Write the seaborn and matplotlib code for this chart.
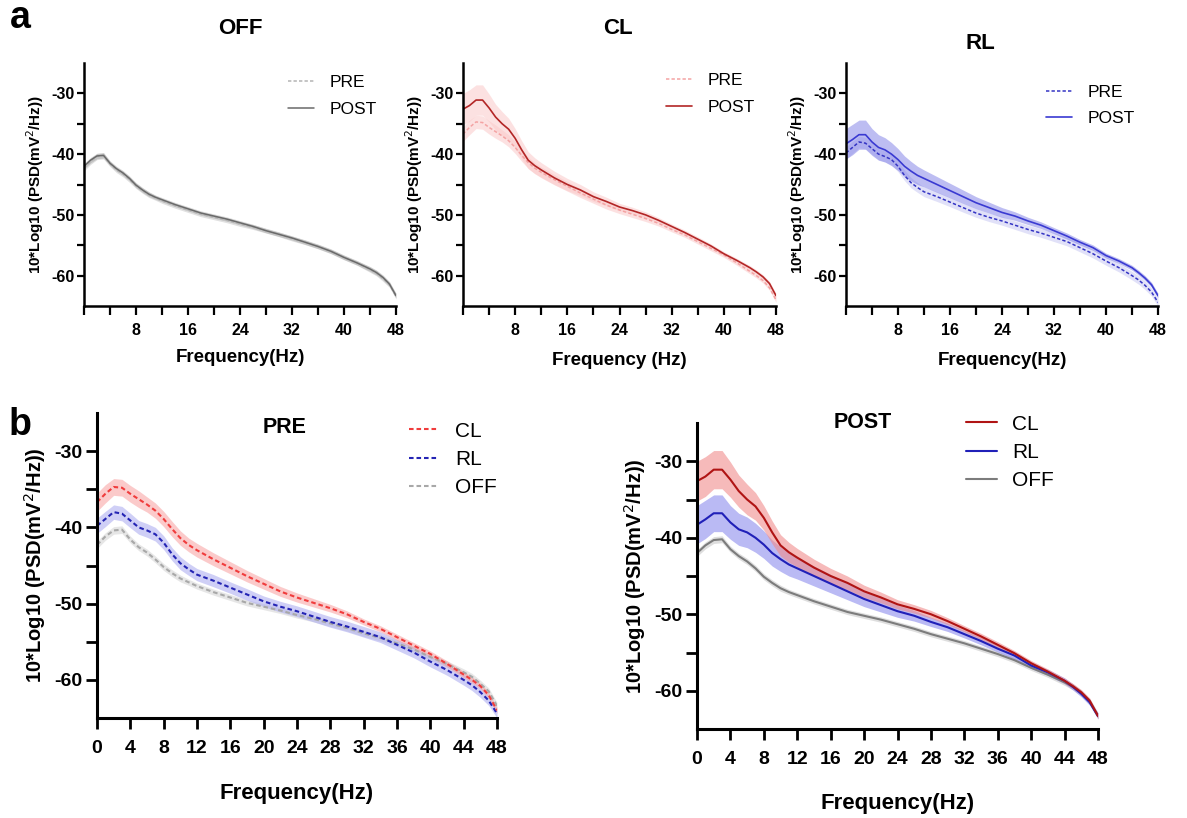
import matplotlib
matplotlib.use("Agg")
import matplotlib.pyplot as plt
import seaborn as sns
import numpy as np

sns.set_theme(style="ticks")
plt.rcParams['font.family'] = ['Liberation Sans', 'DejaVu Sans']
plt.rcParams['axes.unicode_minus'] = False
plt.rcParams['text.color'] = 'black'
plt.rcParams['axes.labelcolor'] = 'black'
plt.rcParams['xtick.color'] = 'black'
plt.rcParams['ytick.color'] = 'black'

# frequency grid (Hz)
freq = [0, 1, 2, 3, 4, 5, 6, 7, 8, 9, 10, 11, 12, 14, 16, 18, 20, 22, 24, 26, 28,
        30, 32, 34, 36, 38, 40, 42, 44, 45, 46, 47, 48]

# mean PSD, 10*log10 (mV^2/Hz)
off_pre = [-42.3, -41.2, -40.4, -40.3, -41.6, -42.6, -43.3, -44.2, -45.2, -46.0, -46.7,
           -47.2, -47.7, -48.5, -49.2, -49.9, -50.4, -50.9, -51.5, -52.0, -52.6, -53.2,
           -53.9, -54.5, -55.2, -56.0, -57.0, -57.9, -59.0, -59.6, -60.5, -61.5, -63.4]
off_post = [-42.0, -41.0, -40.3, -40.2, -41.5, -42.4, -43.1, -44.0, -45.1, -45.9, -46.6,
            -47.1, -47.5, -48.3, -49.0, -49.7, -50.2, -50.7, -51.3, -51.9, -52.6, -53.2,
            -53.8, -54.5, -55.2, -56.0, -57.0, -57.9, -58.9, -59.5, -60.3, -61.4, -63.3]
cl_pre = [-36.7, -35.6, -34.7, -34.8, -35.6, -36.3, -37.0, -37.8, -38.9, -40.2, -41.4,
          -42.3, -43.0, -44.2, -45.3, -46.4, -47.4, -48.4, -49.2, -49.9, -50.6, -51.4,
          -52.4, -53.3, -54.4, -55.5, -56.6, -57.9, -59.3, -60.0, -60.8, -62.0, -64.0]
cl_post = [-32.6, -32.0, -31.1, -31.1, -32.4, -33.9, -35.0, -35.9, -37.4, -39.3, -41.0,
           -41.9, -42.6, -43.9, -45.0, -45.9, -47.0, -47.8, -48.7, -49.3, -50.0, -50.9,
           -51.9, -52.9, -54.0, -55.1, -56.4, -57.5, -58.7, -59.4, -60.2, -61.3, -63.3]
rl_pre = [-39.8, -38.9, -38.0, -38.2, -39.1, -40.0, -40.4, -40.9, -42.0, -43.5, -44.7,
          -45.5, -46.2, -47.0, -47.9, -48.8, -49.7, -50.4, -51.0, -51.7, -52.4, -53.0,
          -53.7, -54.4, -55.4, -56.4, -57.6, -58.7, -60.0, -60.7, -61.6, -62.7, -64.4]
rl_post = [-38.3, -37.6, -36.8, -36.8, -38.0, -38.9, -39.3, -40.0, -40.9, -42.0, -42.8,
           -43.5, -44.0, -45.0, -46.0, -47.0, -48.0, -48.8, -49.6, -50.2, -51.0, -51.7,
           -52.6, -53.5, -54.5, -55.4, -56.7, -57.6, -58.7, -59.5, -60.4, -61.5, -63.3]

# SEM of each curve
off_pre_sem = [0.5, 0.5, 0.5, 0.5, 0.45, 0.45, 0.45, 0.45, 0.45, 0.45, 0.45, 0.4, 0.4,
               0.4, 0.4, 0.4, 0.4, 0.4, 0.4, 0.4, 0.4, 0.4, 0.4, 0.4, 0.4, 0.4, 0.4,
               0.4, 0.45, 0.45, 0.45, 0.45, 0.45]
off_post_sem = [0.45, 0.45, 0.45, 0.45, 0.4, 0.4, 0.4, 0.4, 0.4, 0.4, 0.4, 0.35, 0.35,
                0.35, 0.35, 0.35, 0.35, 0.35, 0.35, 0.35, 0.35, 0.35, 0.35, 0.35, 0.35,
                0.35, 0.35, 0.35, 0.4, 0.4, 0.4, 0.4, 0.4]
cl_pre_sem = [1.2, 1.2, 1.1, 1.1, 1.1, 1.1, 1.0, 1.0, 1.0, 1.0, 0.95, 0.9, 0.9, 0.85,
              0.8, 0.75, 0.7, 0.65, 0.6, 0.55, 0.5, 0.45, 0.4, 0.4, 0.4, 0.4, 0.4, 0.4,
              0.4, 0.4, 0.4, 0.4, 0.4]
cl_post_sem = [2.6, 2.6, 2.5, 2.5, 2.3, 2.1, 2.0, 1.8, 1.6, 1.5, 1.4, 1.3, 1.2, 1.1, 1.0,
               0.9, 0.8, 0.7, 0.6, 0.55, 0.5, 0.45, 0.4, 0.4, 0.4, 0.35, 0.35, 0.35,
               0.35, 0.35, 0.35, 0.35, 0.35]
rl_pre_sem = [1.0, 1.0, 0.95, 0.95, 0.95, 0.9, 0.9, 0.9, 0.9, 0.85, 0.85, 0.8, 0.8, 0.8,
              0.75, 0.75, 0.7, 0.7, 0.7, 0.7, 0.7, 0.7, 0.7, 0.7, 0.7, 0.7, 0.7, 0.7,
              0.7, 0.7, 0.7, 0.65, 0.6]
rl_post_sem = [2.5, 2.5, 2.4, 2.4, 2.2, 2.1, 2.0, 1.9, 1.8, 1.7, 1.6, 1.5, 1.4, 1.3, 1.2,
               1.1, 1.0, 0.9, 0.8, 0.7, 0.6, 0.55, 0.5, 0.5, 0.45, 0.45, 0.4, 0.4, 0.4,
               0.4, 0.4, 0.4, 0.4]

ylab = "10*Log10 (PSD(mV$^2$/Hz))"
DASH = (0, (2.2, 1.4))


def curve(ax, mean, sem, color, band, alpha, dashed, lw, label):
    m = np.array(mean)
    s = np.array(sem)
    ax.fill_between(freq, m - s, m + s, color=band, alpha=alpha, lw=0)
    sns.lineplot(x=freq, y=mean, ax=ax, color=color, lw=lw, errorbar=None,
                 linestyle=DASH if dashed else "-", label=label, legend=False)
    return ax.get_lines()[-1]


def style_axes(ax, big):
    tsize = 14 if big else 11.5
    ax.set_xlim(0, 48)
    ax.set_ylim(-65, -25)
    ax.set_xticks(range(0, 49, 4))
    if big:
        ax.set_xticklabels([str(t) for t in range(0, 49, 4)])
    else:
        ax.set_xticklabels(["" if (t % 8 or t == 0) else str(t) for t in range(0, 49, 4)])
    ax.set_yticks(range(-60, -29, 5))
    ax.set_yticklabels([str(t) if t % 10 == 0 else "" for t in range(-60, -29, 5)])
    for lab in ax.get_xticklabels() + ax.get_yticklabels():
        lab.set_fontweight("bold")
    if big:
        ax.tick_params(axis="x", direction="out", length=8, width=2, labelsize=tsize, pad=8)
        ax.tick_params(axis="y", direction="out", length=8, width=2, labelsize=tsize, pad=2.5)
    else:
        ax.tick_params(axis="x", direction="out", length=6.5, width=1.6, labelsize=tsize, pad=5.5)
        ax.tick_params(axis="y", direction="out", length=5, width=1.6, labelsize=tsize, pad=1.5)
    for side in ["left", "bottom"]:
        ax.spines[side].set_linewidth(2.2 if big else 1.8)
        ax.spines[side].set_color("black")
    sns.despine(ax=ax)
    ax.set_facecolor("white")


fig = plt.figure(figsize=(11.87, 8.18), dpi=100)
W, H = 1187, 818


def add_ax(l, t, r, b):
    return fig.add_axes([l / W, 1 - b / H, (r - l) / W, (b - t) / H])


# ---------------- panel a ----------------
ax_off = add_ax(84, 63, 396, 306)
ax_cl = add_ax(463, 63, 776, 306)
ax_rl = add_ax(846, 63, 1158, 306)

h1 = curve(ax_off, off_pre, off_pre_sem, "#b4b4b4", "#b4b4b4", 0.4, True, 1.1, "PRE")
h2 = curve(ax_off, off_post, off_post_sem, "#6a6a6a", "#9a9a9a", 0.4, False, 1.1, "POST")
leg_off = [h1, h2]

h1 = curve(ax_cl, cl_pre, cl_pre_sem, "#f4a3a3", "#fbcaca", 0.55, True, 1.1, "PRE")
h2 = curve(ax_cl, cl_post, cl_post_sem, "#b32626", "#fbcaca", 0.55, False, 1.2, "POST")
leg_cl = [h1, h2]

h1 = curve(ax_rl, rl_pre, rl_pre_sem, "#3434c4", "#c4c4f2", 0.5, True, 1.1, "PRE")
h2 = curve(ax_rl, rl_post, rl_post_sem, "#3a3ad2", "#7c7ce6", 0.5, False, 1.2, "POST")
leg_rl = [h1, h2]

a_axes = [(ax_off, "OFF", "Frequency(Hz)", leg_off, 1.144, 0.5, (0.655, 0.95)),
          (ax_cl, "CL", "Frequency (Hz)", leg_cl, 1.144, 0.495, (0.65, 0.958)),
          (ax_rl, "RL", "Frequency(Hz)", leg_rl, 1.082, 0.43, (0.64, 0.91))]
for ax, title, xl, handles, ty, tx, lpos in a_axes:
    style_axes(ax, False)
    ax.text(tx, ty, title, transform=ax.transAxes, ha="center", va="center",
            fontsize=16, fontweight="bold")
    ax.set_xlabel(xl, fontsize=13.5, fontweight="bold")
    ax.xaxis.set_label_coords(0.5, -0.21 if title == "OFF" else -0.225)
    ax.xaxis.label.set_va("center")
    ax.set_ylabel(ylab, fontsize=11, fontweight="bold")
    ax.yaxis.set_label_coords(-0.157, 0.5)
    ax.yaxis.label.set_va("center")
    ax.legend(handles=handles, labels=["PRE", "POST"], loc="upper left",
              bbox_to_anchor=lpos, frameon=False, fontsize=12.5, handlelength=1.5,
              handletextpad=0.9, labelspacing=0.65, borderpad=0, borderaxespad=0)

# ---------------- panel b ----------------
ax_pre = add_ax(97, 413, 497, 718)
ax_post = add_ax(697, 423, 1098, 729)

curve_specs_pre = [(off_pre, off_pre_sem, "#a8a8a8", "#cfcfcf", 0.5, "OFF"),
                   (rl_pre, rl_pre_sem, "#2424b4", "#a8a8f0", 0.55, "RL"),
                   (cl_pre, cl_pre_sem, "#f03c3c", "#f8a0a0", 0.55, "CL")]
hp = {}
for mean, sem, col, band, al, name in curve_specs_pre:
    hp[name] = curve(ax_pre, mean, sem, col, band, al, True, 1.5, name)

curve_specs_post = [(off_post, off_post_sem, "#7c7c7c", "#c4c4c4", 0.55, "OFF"),
                    (rl_post, rl_post_sem, "#2020b8", "#8c8cee", 0.6, "RL"),
                    (cl_post, cl_post_sem, "#b01414", "#f08c8c", 0.6, "CL")]
hq = {}
for mean, sem, col, band, al, name in curve_specs_post:
    hq[name] = curve(ax_post, mean, sem, col, band, al, False, 1.5, name)

b_axes = [(ax_pre, "PRE", hp, 0.47, 0.951, (0.78, 0.972), -0.246),
          (ax_post, "POST", hq, 0.414, 1.0, (0.672, 1.027), -0.242)]
for ax, title, hd, tx, ty, lpos, xly in b_axes:
    style_axes(ax, True)
    ax.text(tx, ty, title, transform=ax.transAxes, ha="center", va="center",
            fontsize=15.5, fontweight="bold")
    ax.set_xlabel("Frequency(Hz)", fontsize=16, fontweight="bold")
    ax.xaxis.set_label_coords(0.5, xly)
    ax.xaxis.label.set_va("center")
    ax.set_ylabel(ylab, fontsize=14.5, fontweight="bold")
    ax.yaxis.set_label_coords(-0.155, 0.5)
    ax.yaxis.label.set_va("center")
    ax.legend(handles=[hd["CL"], hd["RL"], hd["OFF"]], labels=["CL", "RL", "OFF"],
              loc="upper left", bbox_to_anchor=lpos, frameon=False, fontsize=15,
              handlelength=1.45, handletextpad=0.75, labelspacing=0.45, borderpad=0,
              borderaxespad=0)

fig.text(20 / W, 1 - 18 / H, "a", fontsize=27, fontweight="bold", ha="center", va="center")
fig.text(20 / W, 1 - 425 / H, "b", fontsize=27, fontweight="bold", ha="center", va="center")

fig.savefig("out.png", dpi=100, facecolor="white")
